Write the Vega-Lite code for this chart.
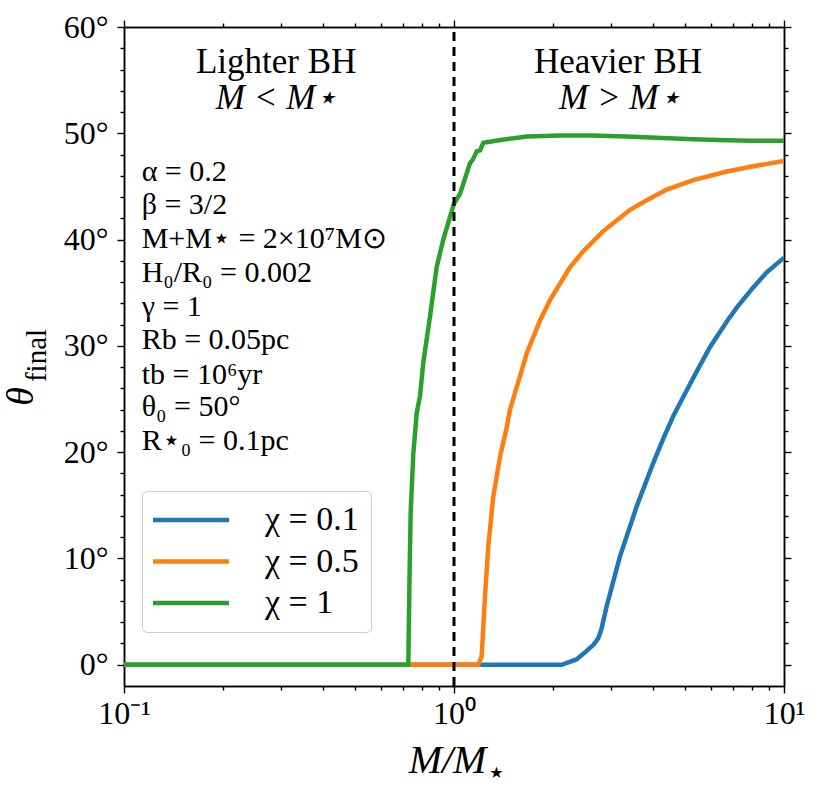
{
  "$schema": "https://vega.github.io/schema/vega-lite/v6.json",
  "width": 660,
  "height": 659,
  "autosize": {"type": "none"},
  "padding": {"left": 124, "top": 27, "right": 39, "bottom": 115},
  "background": "white",
  "config": {
    "view": {"stroke": null},
    "font": "Liberation Serif",
    "axis": {
      "grid": false,
      "labelFont": "Liberation Serif",
      "titleFont": "Liberation Serif",
      "labelColor": "black",
      "titleColor": "black",
      "domainColor": "black",
      "tickColor": "black",
      "domainWidth": 1.5,
      "tickWidth": 1.4,
      "labelFlush": false,
      "labelOverlap": false,
      "labelBound": false
    }
  },
  "datasets": {
    "curves": [
      {"m": 0.1, "theta": 0, "series": "χ = 0.1"},
      {"m": 2.12, "theta": 0, "series": "χ = 0.1"},
      {"m": 2.35, "theta": 0.5, "series": "χ = 0.1"},
      {"m": 2.524, "theta": 1.3, "series": "χ = 0.1"},
      {"m": 2.65, "theta": 1.9, "series": "χ = 0.1"},
      {"m": 2.737, "theta": 2.5, "series": "χ = 0.1"},
      {"m": 2.8, "theta": 3.4, "series": "χ = 0.1"},
      {"m": 2.901, "theta": 5.5, "series": "χ = 0.1"},
      {"m": 3.184, "theta": 10.2, "series": "χ = 0.1"},
      {"m": 3.578, "theta": 14.9, "series": "χ = 0.1"},
      {"m": 4.018, "theta": 19.0, "series": "χ = 0.1"},
      {"m": 4.31, "theta": 21.3, "series": "χ = 0.1"},
      {"m": 4.62, "theta": 23.4, "series": "χ = 0.1"},
      {"m": 5.07, "theta": 25.8, "series": "χ = 0.1"},
      {"m": 5.44, "theta": 27.6, "series": "χ = 0.1"},
      {"m": 5.97, "theta": 29.9, "series": "χ = 0.1"},
      {"m": 6.71, "theta": 32.3, "series": "χ = 0.1"},
      {"m": 7.19, "theta": 33.6, "series": "χ = 0.1"},
      {"m": 8.07, "theta": 35.5, "series": "χ = 0.1"},
      {"m": 8.85, "theta": 36.9, "series": "χ = 0.1"},
      {"m": 10, "theta": 38.3, "series": "χ = 0.1"},
      {"m": 0.1, "theta": 0, "series": "χ = 0.5"},
      {"m": 1.185, "theta": 0, "series": "χ = 0.5"},
      {"m": 1.213, "theta": 0.8, "series": "χ = 0.5"},
      {"m": 1.241, "theta": 6.4, "series": "χ = 0.5"},
      {"m": 1.27, "theta": 11.1, "series": "χ = 0.5"},
      {"m": 1.315, "theta": 15.8, "series": "χ = 0.5"},
      {"m": 1.379, "theta": 19.6, "series": "χ = 0.5"},
      {"m": 1.444, "theta": 22.3, "series": "χ = 0.5"},
      {"m": 1.478, "theta": 24.0, "series": "χ = 0.5"},
      {"m": 1.604, "theta": 27.7, "series": "χ = 0.5"},
      {"m": 1.661, "theta": 29.3, "series": "χ = 0.5"},
      {"m": 1.823, "theta": 32.4, "series": "χ = 0.5"},
      {"m": 1.954, "theta": 34.3, "series": "χ = 0.5"},
      {"m": 2.246, "theta": 37.4, "series": "χ = 0.5"},
      {"m": 2.465, "theta": 38.9, "series": "χ = 0.5"},
      {"m": 2.834, "theta": 40.8, "series": "χ = 0.5"},
      {"m": 3.415, "theta": 42.8, "series": "χ = 0.5"},
      {"m": 3.836, "theta": 43.7, "series": "χ = 0.5"},
      {"m": 4.41, "theta": 44.7, "series": "χ = 0.5"},
      {"m": 5.31, "theta": 45.6, "series": "χ = 0.5"},
      {"m": 6.71, "theta": 46.4, "series": "χ = 0.5"},
      {"m": 8.07, "theta": 46.9, "series": "χ = 0.5"},
      {"m": 10, "theta": 47.4, "series": "χ = 0.5"},
      {"m": 0.1, "theta": 0, "series": "χ = 1"},
      {"m": 0.727, "theta": 0, "series": "χ = 1"},
      {"m": 0.733, "theta": 8, "series": "χ = 1"},
      {"m": 0.739, "theta": 14.3, "series": "χ = 1"},
      {"m": 0.753, "theta": 19.9, "series": "χ = 1"},
      {"m": 0.771, "theta": 23.7, "series": "χ = 1"},
      {"m": 0.789, "theta": 25.3, "series": "χ = 1"},
      {"m": 0.807, "theta": 28.4, "series": "χ = 1"},
      {"m": 0.846, "theta": 32.8, "series": "χ = 1"},
      {"m": 0.886, "theta": 37.4, "series": "χ = 1"},
      {"m": 0.928, "theta": 40.0, "series": "χ = 1"},
      {"m": 1.0, "theta": 43.4, "series": "χ = 1"},
      {"m": 1.043, "theta": 44.3, "series": "χ = 1"},
      {"m": 1.118, "theta": 47.2, "series": "χ = 1"},
      {"m": 1.14, "theta": 47.5, "series": "χ = 1"},
      {"m": 1.172, "theta": 48.3, "series": "χ = 1"},
      {"m": 1.199, "theta": 48.4, "series": "χ = 1"},
      {"m": 1.227, "theta": 49.1, "series": "χ = 1"},
      {"m": 1.4, "theta": 49.4, "series": "χ = 1"},
      {"m": 1.661, "theta": 49.7, "series": "χ = 1"},
      {"m": 2.095, "theta": 49.8, "series": "χ = 1"},
      {"m": 2.6, "theta": 49.8, "series": "χ = 1"},
      {"m": 3.337, "theta": 49.7, "series": "χ = 1"},
      {"m": 4.3, "theta": 49.55, "series": "χ = 1"},
      {"m": 5.31, "theta": 49.45, "series": "χ = 1"},
      {"m": 6.71, "theta": 49.35, "series": "χ = 1"},
      {"m": 8.0, "theta": 49.3, "series": "χ = 1"},
      {"m": 10, "theta": 49.3, "series": "χ = 1"}
    ],
    "regions": [
      {"m": 0.289, "theta": 55.7, "text": "Lighter BH"},
      {"m": 3.14, "theta": 55.7, "text": "Heavier BH"}
    ],
    "relations": [
      {"m": 0.29, "theta": 52.3, "text": "M < M⋆"},
      {"m": 3.18, "theta": 52.3, "text": "M > M⋆"}
    ],
    "params": [
      {"m": 0.1131, "theta": 45.5, "text": "α = 0.2"},
      {"m": 0.1131, "theta": 42.4, "text": "β = 3/2"},
      {"m": 0.1131, "theta": 39.2, "text": "M+M⋆ = 2×10⁷M⊙"},
      {"m": 0.1131, "theta": 36.0, "text": "H₀/R₀ = 0.002"},
      {"m": 0.1131, "theta": 32.8, "text": "γ = 1"},
      {"m": 0.1131, "theta": 29.7, "text": "Rb = 0.05pc"},
      {"m": 0.1131, "theta": 26.4, "text": "tb = 10⁶yr"},
      {"m": 0.1131, "theta": 23.4, "text": "θ₀ = 50°"},
      {"m": 0.1131, "theta": 20.2, "text": "R⋆₀ = 0.1pc"}
    ]
  },
  "resolve": {"axis": {"x": "independent", "y": "independent"}},
  "layer": [
    {
      "data": {"name": "curves"},
      "mark": {"type": "line", "strokeWidth": 4.5, "clip": true},
      "encoding": {
        "x": {
          "field": "m",
          "type": "quantitative",
          "scale": {"type": "log", "domain": [0.1, 10], "nice": false},
          "axis": {
            "orient": "bottom",
            "values": [0.1, 1, 10],
            "labelExpr": "datum.value < 0.5 ? '10⁻¹' : datum.value < 5 ? '10⁰' : '10¹'",
            "labelFontSize": 32,
            "labelBaseline": "top",
            "labelPadding": 5,
            "tickSize": 7,
            "title": "M/M",
            "titleFontSize": 40,
            "titleFontStyle": "italic",
            "titleFontWeight": "normal",
            "titleX": 323,
            "titleY": 86,
            "titleAlign": "center",
            "titleBaseline": "alphabetic"
          }
        },
        "y": {
          "field": "theta",
          "type": "quantitative",
          "scale": {"domain": [-2, 60], "nice": false, "zero": false},
          "axis": {
            "orient": "left",
            "values": [0, 10, 20, 30, 40, 50, 60],
            "labelExpr": "datum.value + '°'",
            "labelFontSize": 32,
            "labelPadding": 9,
            "tickSize": 7,
            "title": "θ",
            "titleFontSize": 38,
            "titleFontStyle": "italic",
            "titleFontWeight": "normal",
            "titleAngle": -90,
            "titleX": -92,
            "titleY": 369,
            "titleAlign": "center",
            "titleBaseline": "alphabetic"
          }
        },
        "color": {
          "field": "series",
          "type": "nominal",
          "scale": {
            "domain": ["χ = 0.1", "χ = 0.5", "χ = 1"],
            "range": ["#1f77b4", "#ff7f0e", "#2ca02c"]
          },
          "legend": {
            "orient": "none",
            "legendX": 18,
            "legendY": 464,
            "title": null,
            "symbolType": "M-3,0H3",
            "symbolSize": 641,
            "symbolStrokeWidth": 4.5,
            "symbolOffset": 20,
            "labelOffset": 57,
            "labelFont": "Liberation Serif",
            "labelFontSize": 34,
            "labelColor": "black",
            "labelLimit": 300,
            "padding": 12,
            "rowPadding": 7.5,
            "strokeColor": "#cccccc",
            "fillColor": "rgba(255,255,255,0.8)",
            "cornerRadius": 5
          }
        }
      }
    },
    {
      "data": {"values": [{}]},
      "mark": {"type": "rule", "strokeDash": [9, 6], "strokeWidth": 3, "color": "black"},
      "encoding": {
        "x": {
          "datum": 1,
          "type": "quantitative",
          "scale": {"type": "log", "domain": [0.1, 10], "nice": false},
          "axis": {
            "orient": "bottom",
            "values": [0.2, 0.3, 0.4, 0.5, 0.6, 0.7, 0.8, 0.9, 2, 3, 4, 5, 6, 7, 8, 9],
            "labels": false,
            "tickSize": 4,
            "title": "★",
            "titleFont": "DejaVu Sans",
            "titleFontSize": 16,
            "titleFontWeight": "normal",
            "titleX": 372,
            "titleY": 91,
            "titleAlign": "center",
            "titleBaseline": "alphabetic"
          }
        },
        "y": {
          "datum": -2,
          "type": "quantitative",
          "scale": {"domain": [-2, 60], "nice": false, "zero": false},
          "axis": {
            "orient": "left",
            "values": [2, 4, 6, 8, 12, 14, 16, 18, 22, 24, 26, 28, 32, 34, 36, 38, 42, 44, 46, 48, 52, 54, 56, 58],
            "labels": false,
            "tickSize": 4,
            "title": "final",
            "titleFontSize": 29,
            "titleFontWeight": "normal",
            "titleAngle": -90,
            "titleX": -79,
            "titleY": 328,
            "titleAlign": "center",
            "titleBaseline": "alphabetic"
          }
        },
        "y2": {"datum": 60}
      }
    },
    {
      "data": {"name": "regions"},
      "mark": {"type": "text", "font": "Liberation Serif", "fontSize": 35, "align": "center", "baseline": "alphabetic", "color": "black"},
      "encoding": {
        "x": {
          "field": "m",
          "type": "quantitative",
          "scale": {"type": "log", "domain": [0.1, 10], "nice": false},
          "axis": {"orient": "top", "values": [0.1, 1, 10], "labels": false, "tickSize": 7, "title": null}
        },
        "y": {
          "field": "theta",
          "type": "quantitative",
          "scale": {"domain": [-2, 60], "nice": false, "zero": false},
          "axis": {"orient": "right", "values": [0, 10, 20, 30, 40, 50, 60], "labels": false, "tickSize": 7, "title": null}
        },
        "text": {"field": "text", "type": "nominal"}
      }
    },
    {
      "data": {"name": "relations"},
      "mark": {"type": "text", "font": "Liberation Serif", "fontSize": 35, "fontStyle": "italic", "align": "center", "baseline": "alphabetic", "color": "black"},
      "encoding": {
        "x": {
          "field": "m",
          "type": "quantitative",
          "scale": {"type": "log", "domain": [0.1, 10], "nice": false},
          "axis": {"orient": "top", "values": [0.2, 0.3, 0.4, 0.5, 0.6, 0.7, 0.8, 0.9, 2, 3, 4, 5, 6, 7, 8, 9], "labels": false, "tickSize": 4, "title": null}
        },
        "y": {
          "field": "theta",
          "type": "quantitative",
          "scale": {"domain": [-2, 60], "nice": false, "zero": false},
          "axis": {"orient": "right", "values": [2, 4, 6, 8, 12, 14, 16, 18, 22, 24, 26, 28, 32, 34, 36, 38, 42, 44, 46, 48, 52, 54, 56, 58], "labels": false, "tickSize": 4, "title": null}
        },
        "text": {"field": "text", "type": "nominal"}
      }
    },
    {
      "data": {"name": "params"},
      "mark": {"type": "text", "font": "Liberation Serif", "fontSize": 30, "align": "left", "baseline": "alphabetic", "color": "black"},
      "encoding": {
        "x": {
          "field": "m",
          "type": "quantitative",
          "scale": {"type": "log", "domain": [0.1, 10], "nice": false},
          "axis": null
        },
        "y": {
          "field": "theta",
          "type": "quantitative",
          "scale": {"domain": [-2, 60], "nice": false, "zero": false},
          "axis": null
        },
        "text": {"field": "text", "type": "nominal"}
      }
    }
  ]
}
